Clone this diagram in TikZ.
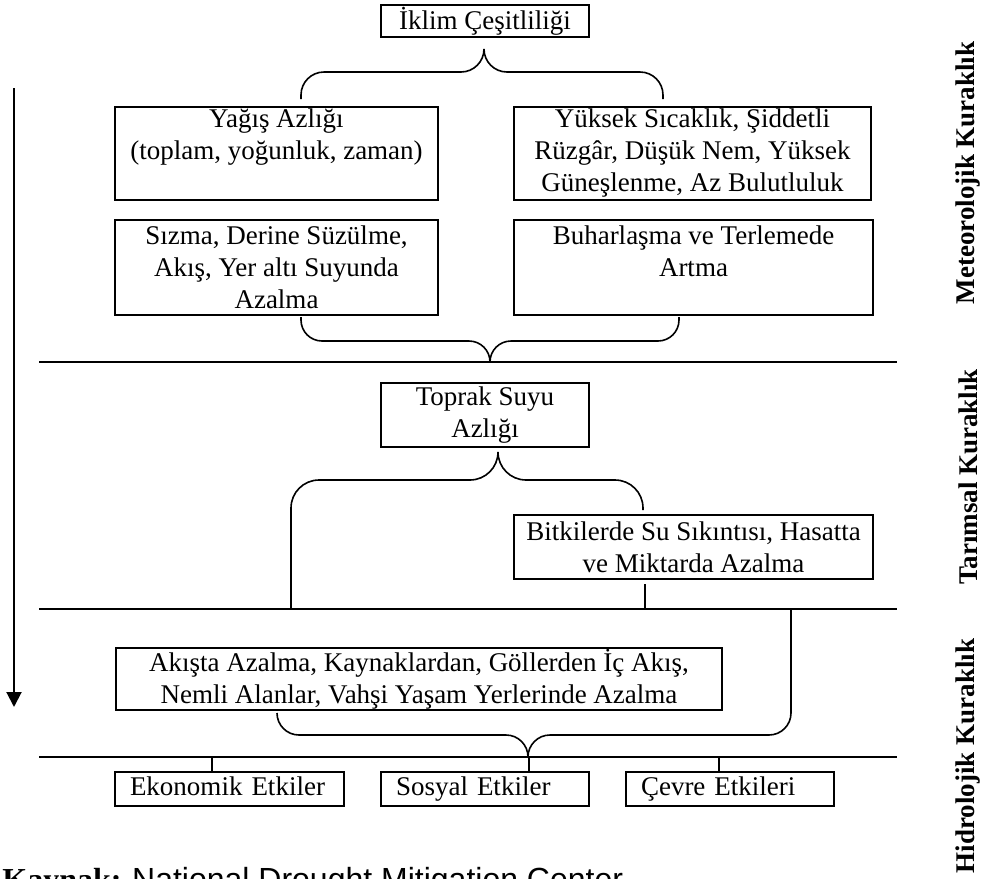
\documentclass[tikz,border=0pt]{standalone}
\usepackage{fontspec}
\setmainfont{Liberation Serif}
\newfontfamily\arialfont{Liberation Sans}
\usetikzlibrary{arrows.meta}
\tikzset{
  kbox/.style={draw, line width=1pt, inner sep=0pt, align=center},
  lbox/.style={draw, line width=1pt, inner ysep=0pt, inner xsep=7.5pt, align=left, text height=10pt, text depth=3.5pt, minimum height=17pt},
  bline/.style={line width=0.8pt},
  hline/.style={line width=1pt},
  sidelabel/.style={rotate=90, font=\fontsize{13.5}{16}\selectfont\bfseries},
}
\begin{document}
\begin{tikzpicture}[x=0.5pt, y=-0.5pt, font=\fontsize{13.5}{16}\selectfont]
  \useasboundingbox (0,0) rectangle (987,879);

  \node[kbox, minimum width=104pt, minimum height=16pt] (iklim) at (485,21){İklim Çeşitliliği};

  \node[kbox, minimum width=161.5pt, minimum height=46.5pt] (yagis) at (276.5,153.5){Yağış Azlığı\\(toplam, yoğunluk, zaman)\\\phantom{Ag,}};
  \node[kbox, minimum width=178.5pt, minimum height=46.5pt] (yuksek) at (692.5,153.5){Yüksek Sıcaklık, Şiddetli\\Rüzgâr, Düşük Nem, Yüksek\\Güneşlenme, Az Bulutluluk};
  \node[kbox, minimum width=161.5pt, minimum height=47.5pt] (sizma) at (276.5,267.5){Sızma, Derine Süzülme,\\Akış, Yer altı Suyunda\\Azalma};
  \node[kbox, minimum width=179.5pt, minimum height=47.5pt] (buhar) at (693.5,267.5){Buharlaşma ve Terlemede\\Artma\\\phantom{Azalma}};

  \node[kbox, minimum width=104pt, minimum height=32pt] (toprak) at (485,415){Toprak Suyu\\Azlığı};
  \node[kbox, minimum width=179.5pt, minimum height=32pt] (bitki) at (693.5,547){Bitkilerde Su Sıkıntısı, Hasatta\\ve Miktarda Azalma};

  \node[kbox, minimum width=303pt, minimum height=31pt] (akis) at (419,679){Akışta Azalma, Kaynaklardan, Göllerden İç Akış,\\Nemli Alanlar, Vahşi Yaşam Yerlerinde Azalma};

  \node[lbox, text width=99.5pt] (ekon) at (229.5,789){Ekonomik Etkiler};
  \node[lbox, text width=89pt] (sosyal) at (485,789){Sosyal Etkiler};
  \node[lbox, text width=89pt] (cevre) at (730,789){Çevre Etkileri};

  \node[sidelabel] (met) at (968,173){Meteorolojik Kuraklık};
  \node[sidelabel] (tar) at (968,477){Tarımsal Kuraklık};
  \node[sidelabel] (hid) at (968,756){Hidrolojik Kuraklık};

  \coordinate (l1w) at (39,362);  \coordinate (l1e) at (897,362);
  \coordinate (l2w) at (39,609);  \coordinate (l2e) at (897,609);
  \coordinate (l3w) at (39,757);  \coordinate (l3e) at (897,757);
  \draw[hline] (l1w) -- (l1e);
  \draw[hline] (l2w) -- (l2e);
  \draw[hline] (l3w) -- (l3e);

  \coordinate (t1) at (484,49);
  \draw[bline, rounded corners=11.5pt] (301,99) -- (301,72) -- (484,72) -- (t1);
  \draw[bline, rounded corners=11.5pt] (663,99) -- (663,72) -- (484,72) -- (t1);

  \coordinate (t2) at (490,362);
  \draw[bline, rounded corners=10.5pt] (301,317) -- (301,341) -- (490,341) -- (t2);
  \draw[bline, rounded corners=10.5pt] (679,317) -- (679,341) -- (490,341) -- (t2);

  \coordinate (t3) at (498,452);
  \coordinate (v1) at (291,609);
  \draw[bline, rounded corners=14pt] (v1) -- (291,480) -- (498,480) -- (t3);
  \draw[bline, rounded corners=14pt] (643,510) -- (643,480) -- (498,480) -- (t3);
  \coordinate (b1) at (645,584);
  \draw[bline] (b1) -- (b1 |- l2w);

  \coordinate (t4) at (528,757);
  \coordinate (v2) at (791,609);
  \draw[bline, rounded corners=11pt] (277,713) -- (277,735) -- (528,735) -- (t4);
  \draw[bline, rounded corners=11pt] (v2) -- (791,735) -- (528,735) -- (t4);

  \coordinate (k1) at (212,757);
  \coordinate (k2) at (529,757);
  \coordinate (k3) at (719,757);
  \draw[bline] (k1) -- (k1 |- ekon.north);
  \draw[bline] (k2) -- (k2 |- sosyal.north);
  \draw[bline] (k3) -- (k3 |- cevre.north);

  \coordinate (a1) at (14,88);
  \coordinate (a2) at (14,707);
  \draw[line width=1pt, -{Triangle[width=7.5pt, length=7.5pt]}] (a1) -- (a2);

  \begin{scope}
    \clip (0,0) rectangle (987,879);
    \node[anchor=base west, inner sep=0pt, font=\fontsize{16}{18}\selectfont] (kaynak) at (2,890){\textbf{Kaynak:} {\arialfont National Drought Mitigation Center}};
  \end{scope}
\end{tikzpicture}
\end{document}
